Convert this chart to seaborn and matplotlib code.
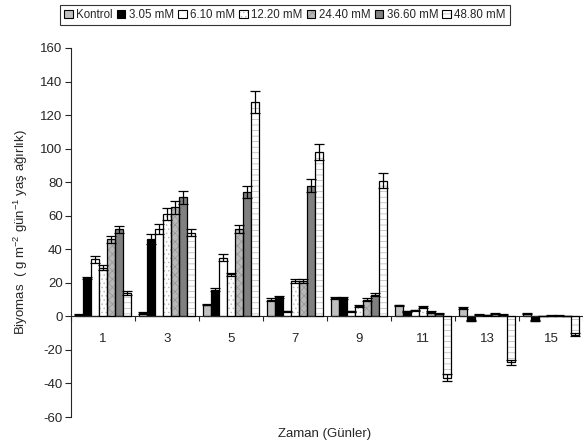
import numpy as np
import pandas as pd
import matplotlib
matplotlib.use("Agg")
import matplotlib.pyplot as plt
from matplotlib.patches import Patch
import seaborn as sns

days = ["1", "3", "5", "7", "9", "11", "13", "15"]
doses = ["Kontrol", "3.05 mM", "6.10 mM", "12.20 mM", "24.40 mM", "36.60 mM", "48.80 mM"]

kontrol = [1.0, 2.0, 7.0, 10.0, 11.0, 6.5, 5.0, 1.5]
d305 = [23.0, 46.0, 16.0, 11.5, 11.0, 3.0, -2.5, -2.5]
d610 = [34.0, 52.0, 35.0, 3.0, 3.0, 3.5, 1.0, 0.3]
d1220 = [29.0, 61.0, 25.0, 21.0, 6.0, 5.5, 0.8, 0.5]
d2440 = [46.0, 65.0, 52.0, 21.0, 10.0, 2.5, 1.5, 0.5]
d3660 = [52.0, 71.0, 74.0, 78.0, 13.0, 1.5, 1.0, 0.3]
d4880 = [14.0, 50.0, 128.0, 98.0, 81.0, -36.5, -27.5, -11.0]

err_kontrol = [0.3, 0.5, 0.5, 1.0, 0.5, 0.5, 0.5, 0.3]
err_d305 = [0.5, 3.0, 1.0, 0.5, 0.5, 0.3, 0.3, 0.3]
err_d610 = [2.0, 3.0, 2.0, 0.3, 0.3, 0.5, 0.3, 0.2]
err_d1220 = [1.5, 3.5, 1.0, 1.0, 0.5, 0.5, 0.2, 0.2]
err_d2440 = [2.0, 4.0, 2.5, 1.0, 1.0, 0.5, 0.3, 0.2]
err_d3660 = [2.0, 4.0, 3.5, 4.0, 1.0, 0.3, 0.2, 0.2]
err_d4880 = [1.0, 2.0, 6.5, 4.5, 4.5, 2.0, 1.5, 1.0]

series = [kontrol, d305, d610, d1220, d2440, d3660, d4880]
errors = [err_kontrol, err_d305, err_d610, err_d1220, err_d2440, err_d3660, err_d4880]

df = pd.DataFrame({
    "day": np.tile(days, len(doses)),
    "dose": np.repeat(doses, len(days)),
    "value": np.concatenate(series),
    "err": np.concatenate(errors),
})

# fill, hatch, hatch colour per dose
styles = [
    ("#c0c0c0", None, None),
    ("#000000", None, None),
    ("#ffffff", None, None),
    ("#ffffff", "....", "#b8b8b8"),
    ("#b8b8b8", "xxxx", "#959595"),
    ("#808080", None, None),
    ("#ffffff", "---", "#b4b4b4"),
]

sns.set_style("ticks")
plt.rcParams["font.family"] = ["Liberation Sans", "DejaVu Sans"]
plt.rcParams["mathtext.fontset"] = "custom"
plt.rcParams["mathtext.rm"] = "Liberation Sans"
plt.rcParams["mathtext.it"] = "Liberation Sans:italic"
plt.rcParams["hatch.linewidth"] = 0.5
plt.rcParams["axes.unicode_minus"] = False

fig = plt.figure(figsize=(5.83, 4.41), dpi=100)
ax = fig.add_axes([71 / 583, 24 / 441, 512 / 583, 369 / 441])

sns.barplot(data=df, x="day", y="value", hue="dose", order=days, hue_order=doses,
            errorbar=None, width=0.86, legend=False, ax=ax)

bar_groups = list(ax.containers)
for k, cont in enumerate(bar_groups):
    fc, hatch, hc = styles[k]
    for j, p in enumerate(cont.patches):
        p.set_facecolor(fc)
        if hatch:
            p.set_hatch(hatch)
            p.set_edgecolor(hc)
            p.set_linewidth(0)
            ax.bar(p.get_x(), p.get_height(), width=p.get_width(), align="edge",
                   fill=False, edgecolor="black", linewidth=0.9, zorder=3)
        else:
            p.set_edgecolor("black")
            p.set_linewidth(0.9)
        ax.errorbar(p.get_x() + p.get_width() / 2, series[k][j], yerr=errors[k][j],
                    fmt="none", ecolor="black", elinewidth=0.9, capsize=3.5,
                    capthick=0.9, zorder=4)

ax.set_ylim(-60, 160)
ax.set_xlim(-0.5, 7.5)
ax.set_yticks(np.arange(-60, 161, 20))
ax.tick_params(axis="y", labelsize=9.5, length=4, width=0.8, pad=2)

ax.spines["top"].set_visible(False)
ax.spines["right"].set_visible(False)
ax.spines["bottom"].set_position(("data", 0))
ax.spines["bottom"].set_linewidth(0.8)
ax.spines["left"].set_linewidth(0.8)

ax.set_xticks(np.arange(len(days)))
ax.set_xticklabels(days)
ax.tick_params(axis="x", which="major", length=0, labelsize=9.5, pad=12)
ax.set_xticks(np.arange(-0.5, len(days) + 0.5, 1), minor=True)
ax.tick_params(axis="x", which="minor", length=3.5, width=0.8, direction="out")

ax.set_xlabel("Zaman (Günler)", fontsize=9.5)
ax.xaxis.set_label_coords(0.495, -0.03)
ax.set_ylabel("Biyomas  ( g m$^{-2}$ gün$^{-1}$ yaş ağırlık)", fontsize=9.5)
ax.yaxis.set_label_coords(-0.08, 0.5)

handles = []
for fc, hatch, hc in styles:
    if hatch:
        handles.append((Patch(facecolor=fc, edgecolor=hc, hatch=hatch, linewidth=0),
                        Patch(fill=False, edgecolor="black", linewidth=0.8)))
    else:
        handles.append(Patch(facecolor=fc, edgecolor="black", linewidth=0.8))
leg = fig.legend(handles=handles, labels=doses, loc="upper left",
                 bbox_to_anchor=(60 / 583, 1 - 5 / 441),
                 ncol=7, fontsize=8.3, frameon=True, fancybox=False, edgecolor="black",
                 handlelength=0.75, handleheight=0.75, handletextpad=0.3, columnspacing=0.35,
                 borderpad=0.35, borderaxespad=0)
leg.get_frame().set_linewidth(0.8)

fig.savefig("out.png", dpi=100)
